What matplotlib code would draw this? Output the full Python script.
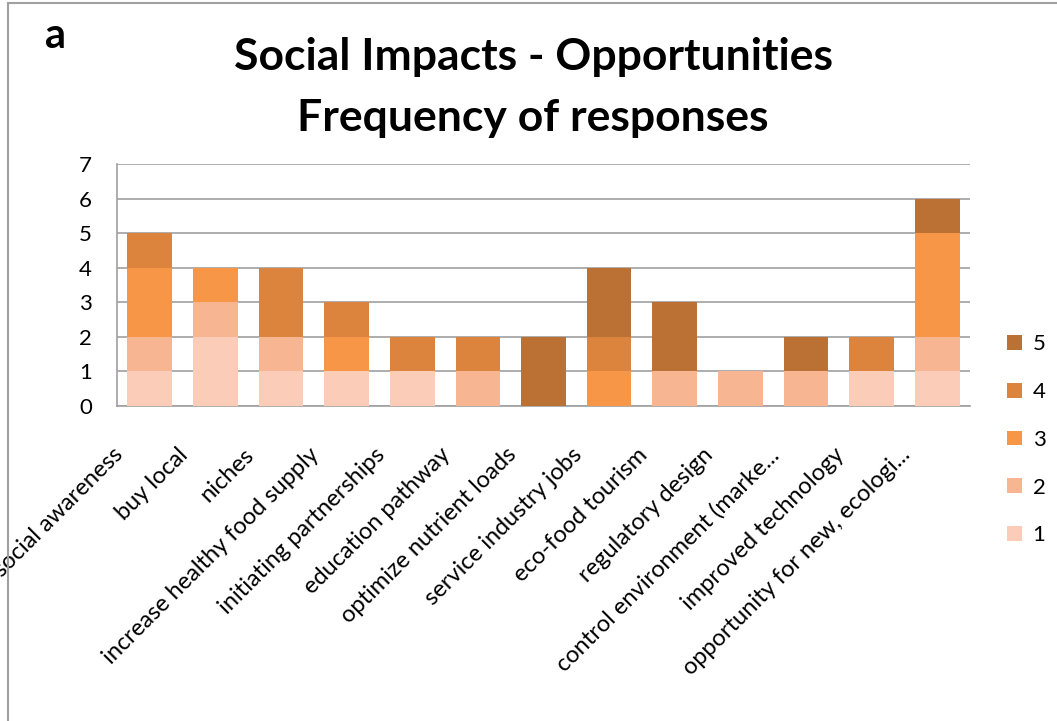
import numpy as np
import matplotlib.pyplot as plt
import matplotlib.transforms as mtransforms
from matplotlib.patches import Rectangle

plt.rcParams['font.family'] = ['Lato', 'DejaVu Sans']

categories = ["social awareness", "buy local", "niches", "increase healthy food supply",
              "initiating partnerships", "education pathway", "optimize nutrient loads",
              "service industry jobs", "eco-food tourism", "regulatory design",
              "control environment (marke...", "improved technology",
              "opportunity for new, ecologi..."]

# responses per rating level
r1 = [1, 2, 1, 1, 1, 0, 0, 0, 0, 0, 0, 1, 1]
r2 = [1, 1, 1, 0, 0, 1, 0, 0, 1, 1, 1, 0, 1]
r3 = [2, 1, 0, 1, 0, 0, 0, 1, 0, 0, 0, 0, 3]
r4 = [1, 0, 2, 1, 1, 1, 0, 1, 0, 0, 0, 1, 0]
r5 = [0, 0, 0, 0, 0, 0, 2, 2, 2, 0, 1, 0, 1]
series = [r1, r2, r3, r4, r5]
series_names = ["1", "2", "3", "4", "5"]
colors = ["#FBCDB8", "#F8B592", "#F79646", "#DC833E", "#BA7133"]

fig = plt.figure(figsize=(10.57, 7.21), dpi=100)
ax = fig.add_axes([117/1057, 1 - 406/721, 853/1057, 242/721])

x = np.arange(len(categories))
bottom = np.zeros(len(categories))
handles = []
for vals, name, c in zip(series, series_names, colors):
    b = ax.bar(x, vals, 0.68, bottom=bottom, color=c, label=name, zorder=3)
    handles.append(b)
    bottom += np.array(vals)

ax.set_xlim(-0.5, len(categories) - 0.5)
ax.set_ylim(0, 7)
ax.set_yticks(range(8))
ax.yaxis.grid(True, color="#A0A0A0", linewidth=1.2, zorder=0)
for s in ["top", "right"]:
    ax.spines[s].set_visible(False)
ax.spines["left"].set_color("#A0A0A0")
ax.spines["bottom"].set_color("#A0A0A0")
ax.spines["left"].set_linewidth(1.2)
ax.spines["bottom"].set_linewidth(1.2)
ax.tick_params(axis="y", length=0, labelsize=16, pad=18)
ax.tick_params(axis="x", length=0)

ax.set_xticks(x)
ax.set_xticklabels(categories, rotation=45, ha="right", va="top",
                   rotation_mode="anchor", fontsize=17)
offset = mtransforms.ScaledTranslation(-0.38, -0.33, fig.dpi_scale_trans)
for lbl in ax.get_xticklabels():
    lbl.set_transform(lbl.get_transform() + offset)

ax.legend(handles[::-1], series_names[::-1], loc="center left",
          bbox_to_anchor=(1.02, -0.14), frameon=False, fontsize=16,
          handlelength=0.65, handleheight=0.65, labelspacing=1.25, handletextpad=0.5)

fig.text(533/1057, 1 - 57/721, "Social Impacts - Opportunities", ha="center", va="center",
         fontsize=32, fontweight="bold")
fig.text(533/1057, 1 - 118/721, "Frequency of responses", ha="center", va="center",
         fontsize=32, fontweight="bold")
fig.text(55/1057, 1 - 36/721, "a", ha="center", va="center", fontsize=30, fontweight="bold")

fig.patches.append(Rectangle((8/1057, -0.05), 1.2, 1.05 - 3/721, transform=fig.transFigure,
                             fill=False, edgecolor="#A0A0A0", linewidth=1.5))

fig.savefig("out.png", dpi=100)
